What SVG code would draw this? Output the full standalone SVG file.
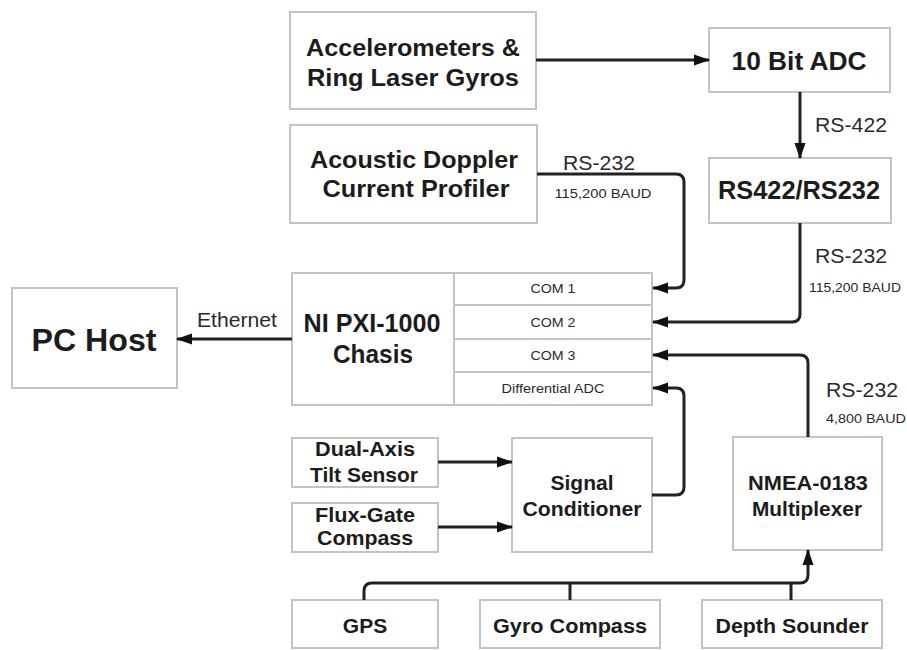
<svg xmlns="http://www.w3.org/2000/svg" width="907" height="650" viewBox="0 0 907 650">
<style>
.box{fill:#fff;stroke:#c4c4c4;stroke-width:2}
.b{font-family:"Liberation Sans",Arial,sans-serif;font-weight:bold;fill:#1c1c1c;text-anchor:middle}
.n{font-family:"Liberation Sans",Arial,sans-serif;fill:#2a2a2a;text-anchor:middle}
.c{fill:none;stroke:#222;stroke-width:3}
</style>
<defs>
<marker id="ah" markerUnits="userSpaceOnUse" markerWidth="16" markerHeight="12" refX="15" refY="6" orient="auto">
<path d="M0,0.5 L16,6 L0,11.5 z" fill="#111"/>
</marker>
</defs>
<rect width="907" height="650" fill="#fff"/>

<g id="accel">
<rect class="box" x="290" y="12" width="246" height="97"/>
<text class="b" x="413" y="56" font-size="24" textLength="214" lengthAdjust="spacingAndGlyphs">Accelerometers &amp;</text>
<text class="b" x="413" y="86" font-size="24" textLength="212" lengthAdjust="spacingAndGlyphs">Ring Laser Gyros</text>
</g>
<g id="adc">
<rect class="box" x="709" y="28" width="181" height="64"/>
<text class="b" x="799" y="70" font-size="25" textLength="135" lengthAdjust="spacingAndGlyphs">10 Bit ADC</text>
</g>
<g id="adcp">
<rect class="box" x="290" y="125" width="247" height="98"/>
<text class="b" x="414" y="168" font-size="24" textLength="208" lengthAdjust="spacingAndGlyphs">Acoustic Doppler</text>
<text class="b" x="416" y="197" font-size="24" textLength="187" lengthAdjust="spacingAndGlyphs">Current Profiler</text>
</g>
<g id="conv">
<rect class="box" x="709" y="158" width="182" height="65"/>
<text class="b" x="799" y="199" font-size="25" textLength="162" lengthAdjust="spacingAndGlyphs">RS422/RS232</text>
</g>
<g id="pxi">
<rect class="box" x="292" y="273" width="360" height="132"/>
<line x1="454" y1="273" x2="454" y2="405" stroke="#c4c4c4" stroke-width="2"/>
<line x1="454" y1="305" x2="652" y2="305" stroke="#c4c4c4" stroke-width="2"/>
<line x1="454" y1="339" x2="652" y2="339" stroke="#c4c4c4" stroke-width="2"/>
<line x1="454" y1="372" x2="652" y2="372" stroke="#c4c4c4" stroke-width="2"/>
<text class="b" x="372" y="332" font-size="25" textLength="137" lengthAdjust="spacingAndGlyphs">NI PXI-1000</text>
<text class="b" x="373" y="363" font-size="25" textLength="80" lengthAdjust="spacingAndGlyphs">Chasis</text>
<text class="n" x="553" y="293" font-size="13" textLength="45" lengthAdjust="spacingAndGlyphs">COM 1</text>
<text class="n" x="553" y="327" font-size="13" textLength="45" lengthAdjust="spacingAndGlyphs">COM 2</text>
<text class="n" x="553" y="360" font-size="13" textLength="45" lengthAdjust="spacingAndGlyphs">COM 3</text>
<text class="n" x="553" y="393" font-size="13" textLength="103" lengthAdjust="spacingAndGlyphs">Differential ADC</text>
</g>
<g id="pchost">
<rect class="box" x="12" y="288" width="165" height="100"/>
<text class="b" x="94" y="351" font-size="32" textLength="125" lengthAdjust="spacingAndGlyphs">PC Host</text>
</g>
<g id="tilt">
<rect class="box" x="292" y="438" width="146" height="49"/>
<text class="b" x="365" y="456" font-size="21" textLength="100" lengthAdjust="spacingAndGlyphs">Dual-Axis</text>
<text class="b" x="364" y="482" font-size="21" textLength="108" lengthAdjust="spacingAndGlyphs">Tilt Sensor</text>
</g>
<g id="flux">
<rect class="box" x="292" y="503" width="146" height="49"/>
<text class="b" x="365" y="522" font-size="21" textLength="100" lengthAdjust="spacingAndGlyphs">Flux-Gate</text>
<text class="b" x="365" y="545" font-size="21" textLength="96" lengthAdjust="spacingAndGlyphs">Compass</text>
</g>
<g id="signal">
<rect class="box" x="512" y="438" width="140" height="114"/>
<text class="b" x="582" y="490" font-size="21" textLength="63" lengthAdjust="spacingAndGlyphs">Signal</text>
<text class="b" x="582" y="516" font-size="21" textLength="119" lengthAdjust="spacingAndGlyphs">Conditioner</text>
</g>
<g id="nmea">
<rect class="box" x="733" y="437" width="149" height="113"/>
<text class="b" x="808" y="490" font-size="21" textLength="120" lengthAdjust="spacingAndGlyphs">NMEA-0183</text>
<text class="b" x="807" y="516" font-size="21" textLength="110" lengthAdjust="spacingAndGlyphs">Multiplexer</text>
</g>
<g id="gps">
<rect class="box" x="292" y="600" width="146" height="48"/>
<text class="b" x="365" y="633" font-size="21">GPS</text>
</g>
<g id="gyro">
<rect class="box" x="480" y="600" width="180" height="48"/>
<text class="b" x="570" y="633" font-size="21" textLength="154" lengthAdjust="spacingAndGlyphs">Gyro Compass</text>
</g>
<g id="depth">
<rect class="box" x="702" y="600" width="180" height="48"/>
<text class="b" x="792" y="633" font-size="21" textLength="153" lengthAdjust="spacingAndGlyphs">Depth Sounder</text>
</g>

<g id="connectors">
<path class="c" d="M536,60 H709" marker-end="url(#ah)"/>
<path class="c" d="M800,92 V158" marker-end="url(#ah)"/>
<path class="c" d="M537,174 H676 Q684,174 684,182 V280 Q684,288 676,288 H653" marker-end="url(#ah)"/>
<path class="c" d="M800,223 V314 Q800,322 792,322 H653" marker-end="url(#ah)"/>
<path class="c" d="M808,437 V363 Q808,355 800,355 H653" marker-end="url(#ah)"/>
<path class="c" d="M652,495 H676 Q684,495 684,487 V396 Q684,388 676,388 H653" marker-end="url(#ah)"/>
<path class="c" d="M292,339 H177" marker-end="url(#ah)"/>
<path class="c" d="M438,462 H512" marker-end="url(#ah)"/>
<path class="c" d="M438,527 H512" marker-end="url(#ah)"/>
<path class="c" d="M364,600 V591 Q364,583 372,583 H800 Q808,583 808,575 V550" marker-end="url(#ah)"/>
<path class="c" d="M570,600 V583"/>
<path class="c" d="M791,600 V583"/>
<text class="n" x="237" y="327" font-size="20" textLength="80" lengthAdjust="spacingAndGlyphs">Ethernet</text>
<text class="n" x="851" y="132" font-size="21" textLength="72" lengthAdjust="spacingAndGlyphs">RS-422</text>
<text class="n" x="599" y="170" font-size="21" textLength="72" lengthAdjust="spacingAndGlyphs">RS-232</text>
<text class="n" x="603" y="198" font-size="13" textLength="97" lengthAdjust="spacingAndGlyphs">115,200 BAUD</text>
<text class="n" x="851" y="263" font-size="21" textLength="72" lengthAdjust="spacingAndGlyphs">RS-232</text>
<text class="n" x="855" y="292" font-size="13" textLength="92" lengthAdjust="spacingAndGlyphs">115,200 BAUD</text>
<text class="n" x="862" y="397" font-size="21" textLength="72" lengthAdjust="spacingAndGlyphs">RS-232</text>
<text class="n" x="866" y="423" font-size="13" textLength="80" lengthAdjust="spacingAndGlyphs">4,800 BAUD</text>
</g>
</svg>
